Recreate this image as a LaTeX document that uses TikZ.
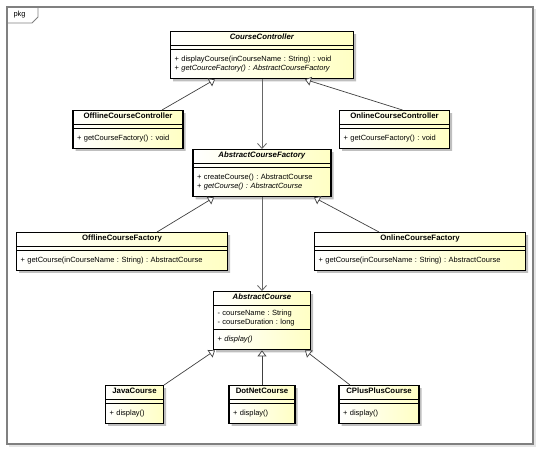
\documentclass[tikz,border=0pt]{standalone}
\usepackage{fontspec}
\newfontfamily\umlfont{Liberation Sans}
\usetikzlibrary{shapes.multipart,shadows,arrows.meta}

\definecolor{umlyellow}{RGB}{255,255,196}
\definecolor{umlframe}{RGB}{128,128,128}
\newcommand{\titlestrut}{\rule[-3.5pt]{0pt}{9.5pt}}
\newcommand{\firststrut}{\rule{0pt}{10pt}}
\newcommand{\laststrut}{\rule[-6pt]{0pt}{0pt}}
\newcommand{\classtitle}[1]{\hskip0pt plus1filll\titlestrut{\fontsize{7.8}{9}\selectfont\bfseries #1}\hskip0pt plus1filll\null}
\frenchspacing

\begin{document}
\begin{tikzpicture}[x=1pt, y=-1pt,
        classbox/.style={rectangle split, rectangle split parts=3, draw=black, line width=1.1pt,
            text width=#1, align=left, inner xsep=4pt, inner ysep=1.5pt,
            left color=white, right color=umlyellow,
            drop shadow={shadow xshift=2.5pt, shadow yshift=-2.5pt, fill=black!25, opacity=1},
            font=\umlfont\fontsize{7.5}{9.5}\selectfont\frenchspacing, anchor=north},
        inherit/.style={draw=black!75, line width=0.7pt, -{Triangle[open, length=6pt, width=9pt, fill=white]}},
        uses/.style={draw=black!60, line width=0.8pt, -{Straight Barb[length=5pt, width=9pt]}}
        ]
    \useasboundingbox (0,0) rectangle (540,450);

    % package frame
    \draw[black!10, line width=1.5pt] (9,446) -- (535,446) -- (535,9);
    \draw[umlframe, line width=1.2pt] (7,7) rectangle (533,444);
    \draw[umlframe, line width=0.8pt] (7,23) -- (32,23) -- (38,17) -- (38,7);
    \node[font=\umlfont\fontsize{7.5}{8}\selectfont, anchor=west] (pkgtab) at (10,15) {pkg};

    % controllers
    \node[classbox=175pt] (cc) at (262,31) {\classtitle{\textit{CourseController}}
        \nodepart{second}
        \nodepart{third}\firststrut+ displayCourse(inCourseName : String) : void\\
        + \textit{getCourceFactory() : AbstractCourseFactory}\laststrut};
    \node[classbox=102pt] (occ) at (128,110) {\classtitle{OfflineCourseController}
        \nodepart{second}
        \nodepart{third}\firststrut+ getCourseFactory() : void\laststrut};
    \node[classbox=102pt] (onc) at (394.5,110) {\classtitle{OnlineCourseController}
        \nodepart{second}
        \nodepart{third}\firststrut+ getCourseFactory() : void\laststrut};

    % factories
    \node[classbox=130pt] (acf) at (262,149) {\classtitle{\textit{AbstractCourseFactory}}
        \nodepart{second}
        \nodepart{third}\firststrut+ createCourse() : AbstractCourse\\
        + \textit{getCourse() : AbstractCourse}\laststrut};
    \node[classbox=203pt] (ocf) at (122,232) {\classtitle{OfflineCourseFactory}
        \nodepart{second}
        \nodepart{third}\firststrut+ getCourse(inCourseName : String) : AbstractCourse\laststrut};
    \node[classbox=203pt] (onf) at (420,232) {\classtitle{OnlineCourseFactory}
        \nodepart{second}
        \nodepart{third}\firststrut+ getCourse(inCourseName : String) : AbstractCourse\laststrut};

    % courses
    \node[classbox=89pt] (ac) at (262,291) {\classtitle{\textit{AbstractCourse}}
        \nodepart{second}\rule{0pt}{8pt}- courseName : String\\
        - courseDuration : long\rule[-3pt]{0pt}{0pt}
        \nodepart{third}\firststrut+ \textit{display()}\laststrut};
    \node[classbox=50pt] (java) at (134.5,385) {\classtitle{JavaCourse}
        \nodepart{second}
        \nodepart{third}\firststrut+ display()\laststrut};
    \node[classbox=58pt] (dotnet) at (262,385) {\classtitle{DotNetCourse}
        \nodepart{second}
        \nodepart{third}\firststrut+ display()\laststrut};
    \node[classbox=72pt] (cpp) at (379,385) {\classtitle{CPlusPlusCourse}
        \nodepart{second}
        \nodepart{third}\firststrut+ display()\laststrut};

    % associations
    \draw[uses] (cc.south) -- (acf.north);
    \draw[uses] (acf.south) -- (ac.north);

    % generalizations
    \draw[inherit] ([xshift=34pt]occ.north) -- ([xshift=-47pt]cc.south);
    \draw[inherit] ([xshift=8pt]onc.north) -- ([xshift=43pt]cc.south);
    \draw[inherit] ([xshift=35pt]ocf.north) -- ([xshift=-48pt]acf.south);
    \draw[inherit] ([xshift=-41pt]onf.north) -- ([xshift=52pt]acf.south);
    \draw[inherit] (java.north east) -- ([xshift=2pt]ac.south west);
    \draw[inherit] (dotnet.north) -- (ac.south);
    \draw[inherit] ([xshift=-29pt]cpp.north) -- ([xshift=-6pt]ac.south east);
\end{tikzpicture}
\end{document}
